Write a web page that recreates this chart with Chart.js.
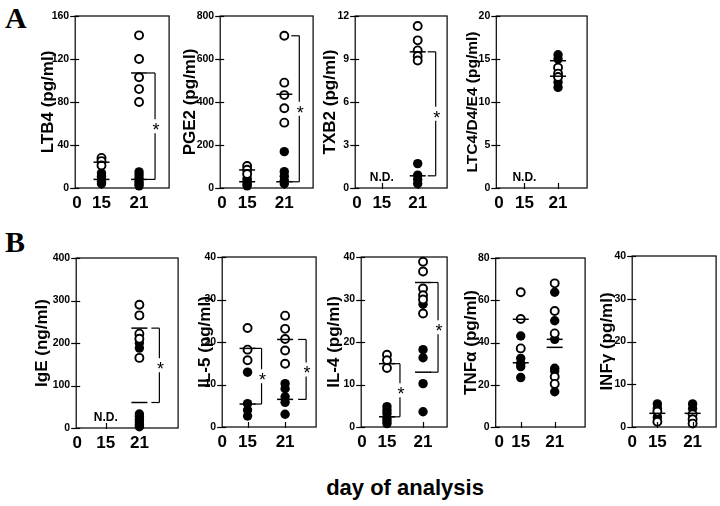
<!DOCTYPE html>
<html><head><meta charset="utf-8">
<script src="https://cdn.jsdelivr.net/npm/chart.js@4.4.1/dist/chart.umd.min.js"></script>
<style>
html,body{margin:0;padding:0;background:#fff;}
body{width:720px;height:506px;position:relative;overflow:hidden;font-family:"Liberation Sans",Arial,sans-serif;}
.lbl{position:absolute;font-family:"Liberation Serif","Times New Roman",serif;font-weight:bold;font-size:30px;line-height:30px;color:#000;}
#xt{position:absolute;left:255px;top:477px;width:300px;text-align:center;font-weight:bold;font-size:22px;line-height:22px;color:#000;}
.pn{position:absolute;}
</style></head><body>
<div class="lbl" style="left:5px;top:3px">A</div>
<div class="lbl" style="left:5px;top:227px">B</div>
<div id="xt">day of analysis</div>
<script>
// ---------------- data ----------------
const days = [0, 15, 21];

// LTB4
const ltb4Ticks = [0, 40, 80, 120, 160];
const ltb4Open15 = [28, 25, 21];
const ltb4Filled15 = [14, 11, 8, 6, 4];
const ltb4Open21 = [142, 120, 103, 92, 80];
const ltb4Filled21 = [15, 12, 9, 6, 4, 2];
const ltb4Means15 = [24, 8];
const ltb4Means21 = [107, 8];
const ltb4Brackets = [[21, 107, 8]];

// PGE2
const pge2Ticks = [0, 200, 400, 600, 800];
const pge2Open15 = [102, 85, 65];
const pge2Filled15 = [45, 35, 25, 15, 10];
const pge2Open21 = [708, 490, 432, 371, 304];
const pge2Filled21 = [169, 76, 55, 35, 20];
const pge2Means15 = [84, 29];
const pge2Means21 = [436, 29];
const pge2Brackets = [[21, 708, 29]];

// TXB2
const txb2Ticks = [0, 3, 6, 9, 12];
const txb2Open15 = [];
const txb2Filled15 = [];
const txb2Open21 = [11.3, 10.3, 9.6, 9.2, 8.9];
const txb2Filled21 = [1.7, 0.9, 0.6, 0.3];
const txb2Means15 = [];
const txb2Means21 = [9.5, 0.85];
const txb2Brackets = [[21, 9.5, 0.85]];

// LTC4/D4/E4
const ltc4Ticks = [0, 5, 10, 15, 20];
const ltc4Open15 = [];
const ltc4Filled15 = [];
const ltc4Open21 = [14.0, 13.3, 12.9];
const ltc4Filled21 = [15.5, 15.0, 12.3, 11.7];
const ltc4Means15 = [];
const ltc4Means21 = [14.8, 13.0];
const ltc4Brackets = [];

// IgE
const igeTicks = [0, 100, 200, 300, 400];
const igeOpen15 = [];
const igeFilled15 = [];
const igeOpen21 = [290, 265, 222, 210, 165];
const igeFilled21 = [200, 188, 33, 27, 20, 14, 8, 3];
const igeMeans15 = [];
const igeMeans21 = [235, 60];
const igeBrackets = [[21, 235, 60]];

// IL-5
const il5Ticks = [0, 10, 20, 30, 40];
const il5Open15 = [23.3, 18.2, 15.7];
const il5Filled15 = [12.9, 5.5, 4.0, 2.6];
const il5Open21 = [26.2, 23.1, 20.7, 18.0, 14.9];
const il5Filled21 = [10.2, 9.0, 7.1, 5.8, 3.0];
const il5Means15 = [18.5, 5.4];
const il5Means21 = [20.6, 6.5];
const il5Brackets = [[15, 18.5, 5.4], [21, 20.6, 6.5]];

// IL-4
const il4Ticks = [0, 10, 20, 30, 40];
const il4Open15 = [17.0, 15.7, 13.9];
const il4Filled15 = [4.8, 4.0, 3.2, 2.2, 1.5, 0.8];
const il4Open21 = [38.9, 36.6, 32.6, 31.0, 30.0, 26.7];
const il4Filled21 = [28.9, 18.2, 16.3, 10.2, 3.6];
const il4Means15 = [14.9, 2.4];
const il4Means21 = [34.0, 12.9];
const il4Brackets = [[15, 14.9, 2.4], [21, 34.0, 12.9]];

// TNF alpha
const tnfTicks = [0, 20, 40, 60, 80];
const tnfOpen15 = [63.8, 51.1, 37.2];
const tnfFilled15 = [43.1, 32.5, 30.1, 28.6, 23.4];
const tnfOpen21 = [68.0, 54.9, 44.3, 23.8, 20.4];
const tnfFilled21 = [63.8, 50.3, 41.5, 27.8, 26.5, 16.7];
const tnfMeans15 = [51.0, 30.4];
const tnfMeans21 = [41.5, 37.7];
const tnfBrackets = [];

// INF gamma
const infTicks = [0, 10, 20, 30, 40];
const infOpen15 = [3.6, 1.2];
const infFilled15 = [5.4, 4.4, 2.3];
const infOpen21 = [3.0, 1.8, 0.8];
const infFilled21 = [5.4, 4.3];
const infMeans15 = [3.2];
const infMeans21 = [3.2];
const infBrackets = [];

// ---------------- panels (layout) ----------------
const panels = [
  {title:'LTB4 (pg/ml)', t:ltb4Ticks, o15:ltb4Open15, f15:ltb4Filled15, o21:ltb4Open21, f21:ltb4Filled21, m15:ltb4Means15, m21:ltb4Means21, br:ltb4Brackets, nd:false,
   box:[75,171,16,188], row:[0,215], d:27, ts:17, fr:[0.02,0.28,0.68], bdx:[16]},
  {title:'PGE2 (pg/ml)', t:pge2Ticks, o15:pge2Open15, f15:pge2Filled15, o21:pge2Open21, f21:pge2Filled21, m15:pge2Means15, m21:pge2Means21, br:pge2Brackets, nd:false,
   box:[220,315,16,188], row:[0,215], d:30, ts:17, fr:[0.02,0.29,0.69], bdx:[15]},
  {title:'TXB2 (pg/ml)', t:txb2Ticks, o15:txb2Open15, f15:txb2Filled15, o21:txb2Open21, f21:txb2Filled21, m15:txb2Means15, m21:txb2Means21, br:txb2Brackets, nd:true,
   box:[355,449,16,188], row:[0,215], d:25, ts:17, fr:[0.02,0.29,0.68], bdx:[18]},
  {title:'LTC4/D4/E4 (pg/ml)', t:ltc4Ticks, o15:ltc4Open15, f15:ltc4Filled15, o21:ltc4Open21, f21:ltc4Filled21, m15:ltc4Means15, m21:ltc4Means21, br:ltc4Brackets, nd:true,
   box:[496,589,16,188], row:[0,215], d:24, ts:15.5, fr:[0.03,0.31,0.68], bdx:[]},
  {title:'IgE (ng/ml)', t:igeTicks, o15:igeOpen15, f15:igeFilled15, o21:igeOpen21, f21:igeFilled21, m15:igeMeans15, m21:igeMeans21, br:igeBrackets, nd:true,
   box:[76,180,258,428], row:[232,455], d:34, ts:17, fr:[0.01,0.29,0.62], bdx:[20]},
  {title:'IL-5 (pg/ml)', t:il5Ticks, o15:il5Open15, f15:il5Filled15, o21:il5Open21, f21:il5Filled21, m15:il5Means15, m21:il5Means21, br:il5Brackets, nd:false,
   box:[222,318,257,427], row:[232,455], d:17, ts:17, fr:[0.0,0.27,0.67], bdx:[14,21]},
  {title:'IL-4 (pg/ml)', t:il4Ticks, o15:il4Open15, f15:il4Filled15, o21:il4Open21, f21:il4Filled21, m15:il4Means15, m21:il4Means21, br:il4Brackets, nd:false,
   box:[361,449,257,427], row:[232,455], d:27, ts:17, fr:[0.01,0.30,0.72], bdx:[13,15]},
  {title:'TNFα (pg/ml)', t:tnfTicks, o15:tnfOpen15, f15:tnfFilled15, o21:tnfOpen21, f21:tnfFilled21, m15:tnfMeans15, m21:tnfMeans21, br:tnfBrackets, nd:false,
   box:[496,588,258,427], row:[232,455], d:24.5, ts:17, fr:[0.04,0.28,0.66], bdx:[]},
  {title:'INFγ (pg/ml)', t:infTicks, o15:infOpen15, f15:infFilled15, o21:infOpen21, f21:infFilled21, m15:infMeans15, m21:infMeans21, br:infBrackets, nd:false,
   box:[632,718,256,427], row:[232,455], d:25, ts:17, fr:[0.0,0.30,0.72], bdx:[]}
];

// ---------------- custom x scale (non-uniform day spacing) ----------------
class DayScale extends Chart.LinearScale {
  _frac(v) {
    const fr = this.chart.canvas._panel.fr;
    let i = 0;
    while (i < days.length - 2 && v > days[i + 1]) i++;
    return fr[i] + (v - days[i]) * (fr[i + 1] - fr[i]) / (days[i + 1] - days[i]);
  }
  getPixelForValue(v) { return this.left + this._frac(v) * this.width; }
  getValueForPixel(p) {
    const fr = this.chart.canvas._panel.fr;
    const f = (p - this.left) / this.width;
    let i = 0;
    while (i < days.length - 2 && f > fr[i + 1]) i++;
    return days[i] + (f - fr[i]) * (days[i + 1] - days[i]) / (fr[i + 1] - fr[i]);
  }
}
DayScale.id = 'dayscale';
DayScale.defaults = {};
Chart.register(DayScale);

// ---------------- decoration plugin ----------------
const decor = {
  id: 'decor',
  afterDatasetsDraw(chart) {
    const p = chart.canvas._panel;
    if (!p) return;
    const ctx = chart.ctx, a = chart.chartArea, x = chart.scales.x, y = chart.scales.y;
    const line = (x1, y1, x2, y2) => { ctx.beginPath(); ctx.moveTo(x1, y1); ctx.lineTo(x2, y2); ctx.stroke(); };
    ctx.save();
    ctx.strokeStyle = '#000'; ctx.fillStyle = '#000';
    ctx.lineWidth = 1.2;
    ctx.strokeRect(a.left, a.top, a.right - a.left, a.bottom - a.top);
    y.ticks.forEach(t => { const py = Math.round(y.getPixelForValue(t.value)) + 0.5; line(a.left - 5, py, a.left + 4, py); });
    [15, 21].forEach(d => { const px = Math.round(x.getPixelForValue(d)) + 0.5; line(px, a.bottom - 5, px, a.bottom + 1); });
    // mean bars
    ctx.lineWidth = 1.5;
    const mean = (d, v) => { const px = x.getPixelForValue(d), py = y.getPixelForValue(v); line(px - 8, py, px + 8, py); };
    p.m15.forEach(v => mean(15, v));
    p.m21.forEach(v => mean(21, v));
    // significance brackets
    ctx.lineWidth = 1.2;
    p.br.forEach((b, i) => {
      const bx = x.getPixelForValue(b[0]) + p.bdx[i];
      const y1 = y.getPixelForValue(b[1]), y2 = y.getPixelForValue(b[2]);
      const ym = (y1 + y2) / 2;
      line(bx - 8, y1, bx, y1);
      line(bx, y1, bx, ym - 7);
      line(bx, ym + 7, bx, y2);
      line(bx - 8, y2, bx, y2);
      ctx.font = '18px "Liberation Sans", Arial, sans-serif';
      ctx.textAlign = 'center'; ctx.textBaseline = 'alphabetic';
      ctx.fillText('*', bx + 1, ym + 10);
    });
    if (p.nd) {
      ctx.font = 'bold 12px "Liberation Sans", Arial, sans-serif';
      ctx.textAlign = 'center'; ctx.textBaseline = 'middle';
      ctx.fillText('N.D.', x.getPixelForValue(15), a.bottom - 10);
    }
    ctx.restore();
  }
};
Chart.register(decor);

panels.forEach(p => {
  const W = p.d + p.ts * 1.2 / 2;
  const left = p.box[0] - W;
  const top = p.row[0];
  const width = Math.ceil(p.box[1] - left + 3);
  const height = p.row[1] - p.row[0];
  const div = document.createElement('div');
  div.className = 'pn';
  div.style.left = left + 'px'; div.style.top = top + 'px';
  div.style.width = width + 'px'; div.style.height = height + 'px';
  const cv = document.createElement('canvas');
  cv.width = width; cv.height = height;
  cv.style.width = width + 'px'; cv.style.height = height + 'px';
  cv._panel = p;
  div.appendChild(cv);
  document.body.appendChild(div);
  const pts = (arr, d) => arr.map(v => ({x: d, y: v}));
  new Chart(cv, {
    type: 'scatter',
    data: {
      datasets: [
        {label: 'open', data: pts(p.o15, 15).concat(pts(p.o21, 21)), pointRadius: 4, pointHoverRadius: 4,
         pointBorderWidth: 1.9, backgroundColor: '#fff', borderColor: '#000', clip: false},
        {label: 'filled', data: pts(p.f15, 15).concat(pts(p.f21, 21)), pointRadius: 4.7, pointHoverRadius: 4.7,
         pointBorderWidth: 0, backgroundColor: '#000', borderColor: '#000', clip: false}
      ]
    },
    options: {
      responsive: false,
      animation: false,
      events: [],
      layout: {padding: {top: p.box[2] - top, right: width - (p.box[1] - left), left: 0, bottom: 0}},
      plugins: {legend: {display: false}, tooltip: {enabled: false}},
      scales: {
        x: {
          type: 'dayscale', min: 0, max: 21,
          grid: {display: false, drawTicks: false},
          border: {display: false},
          afterBuildTicks: s => { s.ticks = days.map(v => ({value: v})); },
          afterFit: s => { s.height = p.row[1] - p.box[3]; },
          ticks: {autoSkip: false, maxRotation: 0, padding: 5, color: '#000',
                  font: {family: '"Liberation Sans", Arial, sans-serif', size: 17, weight: 'bold'},
                  callback: v => String(v)}
        },
        y: {
          type: 'linear', min: p.t[0], max: p.t[p.t.length - 1],
          grid: {display: false, drawTicks: false},
          border: {display: false},
          afterBuildTicks: s => { s.ticks = p.t.map(v => ({value: v})); },
          afterFit: s => { s.width = W; },
          ticks: {padding: 6, color: '#000',
                  font: {family: '"Liberation Sans", Arial, sans-serif', size: 10.5, weight: 'bold'},
                  callback: v => String(v)},
          title: {display: true, text: p.title, color: '#000', padding: 0,
                  font: {family: '"Liberation Sans", Arial, sans-serif', size: p.ts, weight: 'bold'}}
        }
      }
    }
  });
});
</script>
</body></html>
